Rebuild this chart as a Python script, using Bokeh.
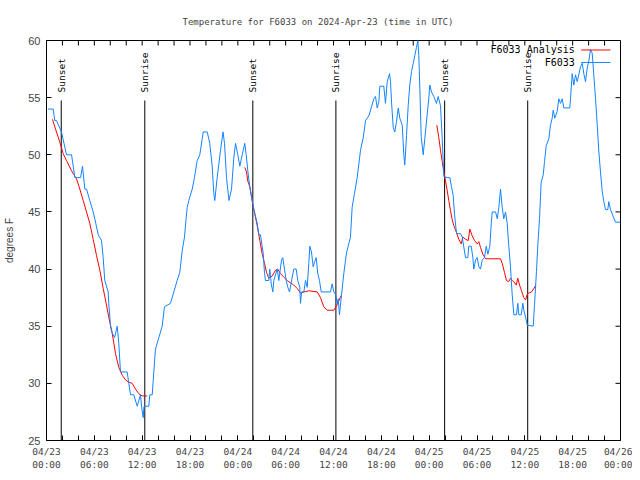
import math
from bokeh.plotting import figure
from bokeh.models import FixedTicker, Range1d
from bokeh.core.properties import value
from bokeh.embed import file_html
from bokeh.resources import INLINE

NaN = float("nan")

# ---- observed temperatures (hours since 2024-04-23 00:00 UTC, degrees F) ----
obs_hours = [
    0.2, 0.84, 1.04, 1.25, 1.88, 2.51, 3.14, 3.35, 3.55, 4.05,
    4.27, 4.52, 4.8, 5.02, 5.43, 5.86, 6.18, 6.49, 6.9, 7.11,
    7.31, 7.74, 7.81, 8.03, 8.24, 8.53, 8.87, 9.07, 9.28, 10.12,
    10.32, 10.54, 10.95, 11.38, 11.79, 11.92, 12.13, 12.23, 12.42, 12.83,
    12.96, 13.26, 13.46, 13.67, 14.09, 14.51, 14.8, 15.55, 15.97, 16.39,
    16.72, 17.02, 17.31, 17.52, 17.65, 17.85, 18.28, 18.56, 18.9, 19.23,
    19.66, 20.16, 20.48, 20.78, 20.99, 21.11, 21.41, 21.83, 22.14, 22.33,
    22.58, 22.89, 23.21, 23.49, 23.71, 24.0, 24.25, 24.55, 24.87, 25.05,
    25.25, 25.5, 25.8, 26.09, 26.43, 26.63, 26.84, 27.18, 27.35, 27.47,
    27.88, 28.01, 28.19, 28.39, 28.51, 28.94, 29.14, 29.48, 29.64, 29.85,
    30.07, 30.27, 30.48, 30.82, 31.02, 31.32, 31.52, 31.77, 31.86, 31.99,
    32.28, 32.49, 32.7, 32.9, 33.03, 33.24, 33.45, 33.62, 33.83, 34.03,
    34.24, 34.46, 35.62, 35.83, 36.04, 36.25, 36.47, 36.59, 36.75, 37.0,
    37.29, 37.63, 37.84, 38.13, 38.34, 38.63, 38.97, 39.39, 39.73, 40.02,
    40.43, 40.77, 41.06, 41.27, 41.48, 41.68, 41.81, 42.31, 42.52, 42.74,
    43.03, 43.15, 43.28, 43.49, 43.69, 43.9, 44.12, 44.32, 44.62, 44.82,
    44.94, 45.16, 45.37, 45.57, 45.79, 46.0, 46.2, 46.41, 46.58, 46.7,
    46.83, 47.0, 47.25, 47.45, 47.75, 47.95, 48.08, 48.29, 48.58, 48.92,
    49.13, 49.42, 49.64, 49.84, 50.26, 50.59, 50.8, 51.02, 51.18, 51.43,
    51.93, 52.15, 52.35, 52.56, 52.85, 52.97, 53.28, 53.48, 53.6, 53.82,
    54.03, 54.23, 54.44, 54.66, 54.94, 55.16, 55.36, 55.61, 55.79, 55.91,
    56.33, 56.54, 56.74, 56.95, 57.16, 57.36, 57.58, 57.79, 57.99, 58.2,
    58.41, 58.62, 58.96, 59.12, 59.25, 59.55, 59.75, 59.87, 60.09, 60.3,
    61.05, 61.21, 61.46, 61.63, 61.84, 62.05, 62.3, 62.47, 62.68, 63.01,
    63.22, 63.43, 63.56, 63.76, 64.06, 64.26, 64.48, 64.69, 64.89, 65.64,
    65.73, 65.94, 66.14, 66.36, 66.57, 66.77, 66.98, 67.2, 67.4, 67.61,
    67.83, 68.02, 68.24, 68.45, 68.65, 68.87, 69.08, 69.28, 69.49, 69.71,
    69.91, 70.12, 70.41, 70.53, 70.75, 71.37, 72.0,
]
obs_temps = [
    54, 54, 53, 53, 52, 50, 50, 49, 48, 48,
    48, 49, 47, 47, 46, 45, 44, 43, 42.5, 41,
    39, 38, 37, 35, 34.4, 34, 35, 33.5, 31, 31,
    30, 29, 29, 28, 29, 28, 27, 28, 28, 28,
    29, 29, 31, 33, 34, 35, 36.7, 37, 38, 39,
    39.7, 41.6, 42.8, 44.5, 45.4, 46, 47, 48, 49.5, 50,
    52, 52, 51, 49, 46.6, 46, 48, 50.4, 52, 51,
    48, 46, 47, 49.7, 51, 50, 49, 50, 51, 50,
    48.6, 47.2, 46, 45, 44, 43, 43, 41.4, 39.6, 39,
    39, 40, 38.7, 38, 39, 40, 39, 40.8, 41, 40,
    39, 38.4, 38, 39.3, 40, 40, 39, 38.4, 37, 38,
    38, 39, 38.4, 40.5, 42, 41.5, 40.2, 40.6, 41, 39.6,
    39, 38, 38, 38.7, 38, 37.8, 37, 37.4, 36, 37.7,
    39.6, 41.4, 42, 42.8, 45.4, 46.6, 48, 50.4, 51.5, 53,
    53.4, 54.2, 54.9, 55.1, 54.1, 54.6, 56, 56, 54.5, 56.4,
    57.1, 56.4, 54.6, 52.4, 52, 52.9, 54.1, 53.2, 52.6, 50,
    49.1, 51.7, 54.3, 56.1, 57.3, 58, 58.7, 59.4, 60, 58.7,
    55.8, 51.6, 50, 51.4, 53.5, 54.9, 56.1, 55.5, 55.1, 54.5,
    55.1, 54.3, 51.4, 48.1, 48, 48, 47.2, 46.4, 44.8, 43.1,
    43.1, 42.8, 41.9, 41, 41, 42, 42, 41, 40, 40.8,
    41, 40.2, 40, 40.8, 41, 42, 41.3, 42, 44, 45,
    45, 44.4, 45.4, 47, 45.4, 44.4, 45, 44, 42, 40.2,
    37.8, 36, 36, 37, 36, 36, 37, 36.4, 35.8, 35.1,
    35, 36.8, 39.8, 42.1, 44.4, 47.6, 48.2, 49.4, 50.8, 51.4,
    52.6, 53.2, 53.9, 53.2, 53.8, 54.9, 54.5, 54.9, 54.1, 54.1,
    54.9, 57.1, 56.1, 57, 56.4, 57, 57.7, 58, 57.1, 56.4,
    57.6, 58.2, 59.2, 58.9, 57, 54.9, 52.6, 50.3, 48.5, 46.8,
    45.9, 45.2, 45.2, 45.9, 45.2, 44.1, 44.1,
]

# ---- analysis series (three nightly segments, NaN = gap) ----
ana_hours = [
    0.75, 1.25, 1.67, 2.09, 2.51, 3.14, 3.76, 4.18, 4.6, 5.02,
    5.43, 5.86, 6.27, 6.69, 7.11, 7.4, 7.81, 8.24, 8.66, 9.07,
    9.5, 9.91, 10.32, 10.75, 11.16, 11.58, 12.0, 12.63,
    NaN,
    24.87, 25.09, 25.25, 25.5, 25.72, 25.93, 26.13, 26.43, 26.76, 27.06,
    27.35, 27.6, 27.89, 28.31, 28.73, 29.01, 29.35, 29.77, 30.19, 30.61,
    31.02, 31.45, 31.86, 32.28, 32.9, 33.96, 34.37, 34.78, 35.21, 36.04,
    36.34, 36.59, 36.97,
    NaN,
    48.96, 49.21, 49.42, 49.64, 49.84, 50.05, 50.26, 50.46, 50.68, 50.89,
    51.09, 51.43, 51.72, 52.02, 52.22, 52.56, 52.9, 53.1, 53.4, 53.69,
    54.03, 54.23, 54.44, 54.73, 55.07, 56.95, 57.16, 57.45, 57.7, 57.99,
    58.2, 58.41, 58.62, 58.92, 59.12, 59.34, 59.58, 59.87, 60.09, 60.3,
    60.5, 60.84, 61.13, 61.38,
]
ana_temps = [
    53.1, 52, 51.1, 50.1, 49.5, 48.6, 47.9, 47, 46, 45,
    44, 42.6, 41.2, 39.9, 38.3, 37.3, 35.8, 34.4, 32.6, 31.4,
    30.7, 30.3, 30.1, 30, 29.5, 29.1, 28.9, 28.9,
    NaN,
    48.9, 48.5, 47.7, 47.2, 46.3, 45.4, 44.8, 43.8, 42.5, 41.3,
    40.5, 39.7, 39.2, 39.4, 39.9, 40, 39.6, 39.3, 39, 38.8,
    38.6, 38.3, 37.9, 38, 38.1, 38, 37.5, 36.7, 36.4, 36.4,
    36.7, 37.1, 37.7,
    NaN,
    52.6, 51.5, 50.4, 49.4, 48.5, 47.7, 46.9, 46, 45.1, 44.3,
    43.8, 43.2, 42.6, 42.2, 42.8, 42.6, 42.5, 43.5, 42.9, 42.5,
    42.2, 42.4, 41.9, 41.3, 40.9, 40.9, 40.5, 39.7, 39, 38.9,
    39.2, 39, 38.9, 38.6, 39.2, 38.6, 38.1, 37.5, 37.3, 37.8,
    37.9, 38, 38.3, 38.6,
]

# ---- sunset / sunrise events ----
event_hours = [1.85, 12.33, 25.88, 36.3, 49.94, 60.36]
event_names = ["Sunset", "Sunrise", "Sunset", "Sunrise", "Sunset", "Sunrise"]

# ---- ticks ----
x_tick_hours = [0, 6, 12, 18, 24, 30, 36, 42, 48, 54, 60, 66, 72]
x_tick_labels = ["04/23\n00:00", "04/23\n06:00", "04/23\n12:00", "04/23\n18:00",
                 "04/24\n00:00", "04/24\n06:00", "04/24\n12:00", "04/24\n18:00",
                 "04/25\n00:00", "04/25\n06:00", "04/25\n12:00", "04/25\n18:00",
                 "04/26\n00:00"]
x_minor_hours = list(range(0, 73, 2))
y_ticks = [25, 30, 35, 40, 45, 50, 55, 60]

legend_names = ["F6033 Analysis", "F6033"]

BLUE = "#1284ff"
RED = "#ff0000"
MONO = "DejaVu Sans Mono"
SANS = "Liberation Sans"

X0, X1, Y0, Y1 = 0, 72, 25, 60
FRAME_W, FRAME_H = 574, 400
TICK_PX = 5

p = figure(width=632, height=472, x_range=Range1d(X0, X1), y_range=Range1d(Y0, Y1),
           output_backend="svg", toolbar_location=None,
           min_border_left=46, min_border_right=12, min_border_top=40, min_border_bottom=32,
           title="Temperature for F6033 on 2024-Apr-23 (time in UTC)")

p.background_fill_color = "white"
p.border_fill_color = "white"
p.outline_line_color = "black"
p.outline_line_width = 1
p.xgrid.visible = False
p.ygrid.visible = False

p.title.text_font = MONO
p.title.text_font_size = "9px"
p.title.text_font_style = "normal"
p.title.align = "left"
p.title.offset = 136
p.title.standoff = 27


def style(ax):
    ax.axis_line_color = None
    ax.major_tick_in = TICK_PX
    ax.major_tick_out = 0
    ax.minor_tick_in = TICK_PX
    ax.minor_tick_out = 0
    ax.major_tick_line_color = "black"
    ax.minor_tick_line_color = "black"


xa = p.xaxis[0]
xa.ticker = FixedTicker(ticks=x_tick_hours, minor_ticks=x_minor_hours)
style(xa)
xa.major_label_overrides = dict(zip(x_tick_hours, x_tick_labels))
xa.major_label_text_font = MONO
xa.major_label_text_font_size = "9.5px"
xa.major_label_text_line_height = 1.2
xa.major_label_standoff = 5

ya = p.yaxis[0]
ya.ticker = FixedTicker(ticks=y_ticks, minor_ticks=[])
style(ya)
ya.minor_tick_line_color = None
ya.major_label_text_font = SANS
ya.major_label_text_font_size = "11px"
ya.major_label_standoff = 6
ya.axis_label = "degrees F"
ya.axis_label_text_font = SANS
ya.axis_label_text_font_size = "10px"
ya.axis_label_text_font_style = "normal"
ya.axis_label_standoff = 10

# mirrored inward ticks on the top and right frame edges
dx_tick = TICK_PX * (X1 - X0) / FRAME_W
dy_tick = TICK_PX * (Y1 - Y0) / FRAME_H
p.segment(x0=x_minor_hours, y0=[Y1] * len(x_minor_hours), x1=x_minor_hours,
          y1=[Y1 - dy_tick] * len(x_minor_hours), line_color="black", line_width=1)
p.segment(x0=[X1] * len(y_ticks), y0=y_ticks, x1=[X1 - dx_tick] * len(y_ticks),
          y1=y_ticks, line_color="black", line_width=1)

# sunset / sunrise markers
p.segment(x0=event_hours, y0=[Y0] * len(event_hours), x1=event_hours,
          y1=[54.75] * len(event_hours), line_color="black", line_width=1)
p.text(x=event_hours, y=[55.45] * len(event_hours), text=event_names,
       angle=math.pi / 2, text_align="left", text_baseline="middle",
       text_font=value(MONO), text_font_size="9.5px", text_color="black")

# data
p.line(ana_hours, ana_temps, line_color=RED, line_width=1)
p.line(obs_hours, obs_temps, line_color=BLUE, line_width=1)

# legend (gnuplot style: label then sample line)
leg_y = [59.17, 58.08]
p.text(x=[66.27, 66.27], y=leg_y, text=legend_names, text_align="right",
       text_baseline="middle", text_font=value(MONO), text_font_size="10px",
       text_color="black")
p.segment(x0=[67.07, 67.07], y0=leg_y, x1=[70.74, 70.74], y1=leg_y,
          line_color=[RED, BLUE], line_width=1)

open("out.html", "w").write(file_html(p, INLINE))
